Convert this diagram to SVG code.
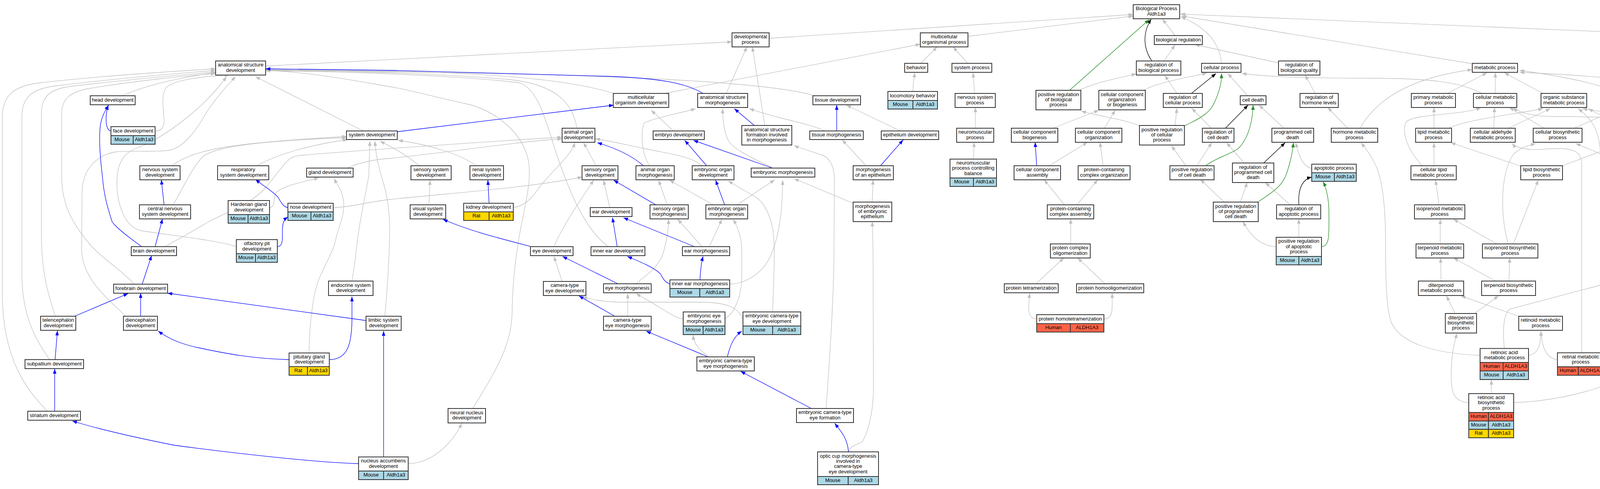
<svg xmlns="http://www.w3.org/2000/svg" width="4796" height="1251" viewBox="0 0 4796 1251">
<defs>
<style>
.node rect{fill:#fff;stroke:#333;stroke-width:2}
.node rect.m{fill:#add8e6}
.node rect.r{fill:#ffd700}
.node rect.h{fill:#ff6347}
text{font-family:"Liberation Sans",Arial,sans-serif;font-size:13px;text-anchor:middle;fill:#000}
.node text{transform:translateY(-1.5px)}
#edges path{fill:none;stroke-width:1.3}
#edges .g{stroke:#c0c0c0;marker-end:url(#ag)}
#edges .b{stroke:#0000ff;marker-end:url(#ab)}
#edges .k{stroke:#000;marker-end:url(#ak)}
#edges .gr{stroke:#228b22;marker-end:url(#agr)}
</style>
<marker id="ag" viewBox="0 0 12 9" refX="12" refY="4.5" markerWidth="12" markerHeight="9" markerUnits="userSpaceOnUse" orient="auto"><path d="M0,0L12,4.5L0,9z" fill="#c0c0c0"/></marker>
<marker id="ab" viewBox="0 0 12 9" refX="12" refY="4.5" markerWidth="12" markerHeight="9" markerUnits="userSpaceOnUse" orient="auto"><path d="M0,0L12,4.5L0,9z" fill="#0000ff"/></marker>
<marker id="ak" viewBox="0 0 12 9" refX="12" refY="4.5" markerWidth="12" markerHeight="9" markerUnits="userSpaceOnUse" orient="auto"><path d="M0,0L12,4.5L0,9z" fill="#000"/></marker>
<marker id="agr" viewBox="0 0 12 9" refX="12" refY="4.5" markerWidth="12" markerHeight="9" markerUnits="userSpaceOnUse" orient="auto"><path d="M0,0L12,4.5L0,9z" fill="#228b22"/></marker>
</defs>
<rect width="4796" height="1251" fill="#fff"/>
<g id="edges">
<path class="g" d="M680,169 L1874,107"/>
<path class="g" d="M1969,98 L2901,37"/>
<path class="g" d="M2478,93 L2901,41"/>
<path class="g" d="M3008,91 L2976,49"/>
<path class="g" d="M3127,162 C3122,110 3090,70 3023,43"/>
<path class="g" d="M3769,163 L3025,41"/>
<path class="g" d="M4537,99 L3022,36"/>
<path class="g" d="M1859,239 L1912,120"/>
<path class="g" d="M1958,321 L1926,120"/>
<path class="g" d="M1701,239 L2356,113"/>
<path class="g" d="M2357,162 L2399,120"/>
<path class="g" d="M2477,162 L2440,120"/>
<path class="g" d="M2337,234 C2337,215 2340,200 2342,186"/>
<path class="g" d="M2495,239 L2491,186"/>
<path class="g" d="M2497,328 L2497,275"/>
<path class="g" d="M2492,407 L2494,364"/>
<path class="g" d="M2980,156 L3008,115"/>
<path class="g" d="M3273,161 L3059,114"/>
<path class="g" d="M2763,231 C2800,212 2860,200 2909,189"/>
<path class="g" d="M3013,239 L2982,193"/>
<path class="g" d="M2928,231 C2960,212 3030,200 3090,187"/>
<path class="g" d="M3194,245 L3143,188"/>
<path class="g" d="M3794,239 C3740,210 3660,200 3500,200 C3350,200 3250,197 3179,188"/>
<path class="g" d="M3287,328 L3223,269"/>
<path class="g" d="M3008,321 L3013,277"/>
<path class="g" d="M3101,328 L3051,277"/>
<path class="g" d="M2917,322 C2880,305 2810,297 2768,284"/>
<path class="g" d="M2695,328 L2813,282"/>
<path class="g" d="M2827,328 L2855,282"/>
<path class="g" d="M2686,424 L2784,364"/>
<path class="g" d="M2824,424 L2816,364"/>
<path class="g" d="M2725,524 L2673,460"/>
<path class="g" d="M2757,524 L2810,460"/>
<path class="g" d="M2741,624 L2741,560"/>
<path class="g" d="M2652,726 L2723,660"/>
<path class="g" d="M2829,726 L2759,660"/>
<path class="g" d="M2654,816 C2630,816 2632,790 2636,750"/>
<path class="g" d="M2826,816 C2850,816 2848,790 2847,750"/>
<path class="g" d="M3036,424 L2999,373"/>
<path class="g" d="M3064,424 L3102,365"/>
<path class="g" d="M3185,417 L3140,365"/>
<path class="g" d="M3358,431 C3335,425 3325,400 3317,365"/>
<path class="g" d="M3175,517 L3193,467"/>
<path class="g" d="M3303,524 L3239,467"/>
<path class="g" d="M3134,517 L3073,459"/>
<path class="g" d="M3267,631 C3225,630 3200,600 3182,567"/>
<path class="g" d="M3325,607 L3325,560"/>
<path class="g" d="M3450,328 L3399,275"/>
<path class="g" d="M3367,239 L3341,192"/>
<path class="g" d="M3789,909 C3680,905 3580,880 3560,820 C3548,780 3547,700 3547,620 C3547,540 3540,470 3525,430 C3510,395 3495,380 3485,365"/>
<path class="g" d="M3482,328 C3520,260 3600,200 3769,178"/>
<path class="g" d="M3705,239 L3807,186"/>
<path class="g" d="M3828,239 L3828,186"/>
<path class="g" d="M3950,239 L3851,186"/>
<path class="g" d="M4146,240 C4100,215 4000,195 3890,180"/>
<path class="g" d="M4314,239 C4250,205 4050,192 3890,185"/>
<path class="g" d="M3671,328 L3671,275"/>
<path class="g" d="M3641,424 C3600,380 3588,335 3600,312 C3620,290 3750,295 3791,275"/>
<path class="g" d="M3824,328 L3826,275"/>
<path class="g" d="M3953,328 L3864,275"/>
<path class="g" d="M4326,328 C4280,305 4100,298 3980,298 C3930,298 3890,290 3874,275"/>
<path class="g" d="M3708,328 C3760,305 3860,295 3950,278"/>
<path class="g" d="M3861,328 L3969,278"/>
<path class="g" d="M4148,321 L4066,278"/>
<path class="g" d="M4326,328 C4280,305 4120,290 4051,278"/>
<path class="g" d="M4146,809 C4110,760 4097,700 4097,620 L4097,400 C4097,330 4070,300 4040,278"/>
<path class="g" d="M4030,328 L4149,276"/>
<path class="g" d="M4200,321 L4193,276"/>
<path class="g" d="M4367,328 L4367,275"/>
<path class="g" d="M4474,321 L4403,276"/>
<path class="g" d="M4470,321 C4430,300 4280,295 4231,276"/>
<path class="g" d="M4172,425 L4034,367"/>
<path class="g" d="M3861,624 C3842,560 3838,450 3874,395 C3895,375 3915,372 3931,367"/>
<path class="g" d="M4049,902 L4049,420 C4049,390 4030,380 3990,380 C3950,380 3930,386 3900,380 C3885,377 3876,373 3871,367"/>
<path class="g" d="M3671,424 L3671,365"/>
<path class="g" d="M3893,425 L3714,365"/>
<path class="g" d="M3684,524 L3675,461"/>
<path class="g" d="M3874,624 L3938,461"/>
<path class="g" d="M3687,624 L3687,561"/>
<path class="g" d="M3832,624 L3721,561"/>
<path class="g" d="M3863,719 L3865,660"/>
<path class="g" d="M3689,719 L3688,660"/>
<path class="g" d="M3829,719 L3721,660"/>
<path class="g" d="M3725,802 L3703,757"/>
<path class="g" d="M3888,809 L3740,757"/>
<path class="g" d="M3775,802 L3836,757"/>
<path class="g" d="M3760,1030 C3720,1028 3715,1000 3715,960 C3715,900 3725,870 3730,853"/>
<path class="g" d="M3913,909 C3940,905 3944,880 3945,847"/>
<path class="g" d="M3987,920 C3960,918 3947,890 3945,847"/>
<path class="g" d="M4106,920 C4135,920 4150,880 4153,847"/>
<path class="g" d="M3818,1007 L3818,972"/>
<path class="g" d="M3851,891 C3848,860 3845,810 3864,791 L4186,706 C4230,695 4290,685 4314,668"/>
<path class="g" d="M3876,1030 C3950,1028 4050,1010 4117,982 C4170,960 4200,930 4214,902 C4240,850 4250,800 4259,765"/>
<path class="g" d="M4247,713 L4226,668"/>
<path class="g" d="M4287,713 L4329,668"/>
<path class="g" d="M4211,617 L4211,469"/>
<path class="g" d="M4249,617 L4331,561"/>
<path class="g" d="M4355,617 L4355,561"/>
<path class="g" d="M4357,524 L4361,461"/>
<path class="g" d="M4365,424 L4367,365"/>
<path class="g" d="M4249,417 L4340,365"/>
<path class="g" d="M4210,417 L4209,372"/>
<path class="g" d="M4251,417 C4280,395 4320,385 4400,384 C4440,383 4455,378 4469,369"/>
<path class="g" d="M3997,425 L4147,369"/>
<path class="g" d="M4577,156 L4577,120"/>
<path class="g" d="M4680,156 L4614,120"/>
<path class="g" d="M4580,245 L4579,192"/>
<path class="g" d="M4718,228 L4718,192"/>
<path class="g" d="M4613,335 C4595,332 4588,300 4584,268"/>
<path class="g" d="M1571,239 C1480,210 1300,188 1000,182 L680,178"/>
<path class="g" d="M1477,328 C1465,260 1420,215 1300,203 C1150,190 900,181 680,179"/>
<path class="g" d="M2086,245 C1950,205 1500,190 1000,184 L680,180"/>
<path class="g" d="M1558,631 C1500,590 1460,500 1420,380 C1390,280 1370,225 1330,212 C1200,195 900,183 680,181"/>
<path class="g" d="M1210,1045 C1270,950 1310,880 1311,800 C1312,720 1320,660 1330,600 C1345,520 1365,450 1350,400 C1330,330 1260,280 1191,265 C1120,250 1050,230 1000,222 C900,205 800,185 680,180"/>
<path class="g" d="M930,335 L654,196"/>
<path class="g" d="M312,245 C380,215 480,195 552,186"/>
<path class="g" d="M397,335 C415,335 421,325 420,305 C418,275 412,245 425,225 C440,205 520,195 587,192"/>
<path class="g" d="M605,631 C560,615 420,600 360,590 C320,580 295,520 300,450 C305,400 330,385 360,375 C420,350 520,280 580,196"/>
<path class="g" d="M321,809 C285,770 212,720 209,640 L210,490 C212,430 250,395 300,388 C350,385 410,390 440,383 C480,370 510,320 530,285 C560,240 590,210 603,196"/>
<path class="g" d="M121,1051 C70,1000 6,920 6,750 L6,300 C6,240 40,220 100,212 C250,195 450,182 552,176"/>
<path class="g" d="M127,920 C100,880 56,820 56,700 L56,300 C56,250 80,228 140,220 C280,203 450,188 552,180"/>
<path class="g" d="M142,809 C125,760 106,700 106,600 L106,290 C106,245 130,228 180,221 C300,207 460,192 552,184"/>
<path class="g" d="M344,727 C310,690 260,660 230,625 C180,565 158,520 158,450 L158,290 C158,252 180,235 230,226 C340,208 470,194 552,188"/>
<path class="g" d="M421,631 C480,600 520,575 542,563 C600,535 650,515 680,480 C710,445 725,420 740,408 C750,400 760,398 775,397 C850,390 1200,365 1439,351"/>
<path class="g" d="M443,524 C470,480 490,430 520,400 C560,370 700,360 887,352"/>
<path class="g" d="M440,424 C500,380 600,365 887,349"/>
<path class="g" d="M657,424 C720,390 800,370 890,357"/>
<path class="g" d="M890,430 C920,415 960,408 1000,405 C1150,390 1300,365 1439,355"/>
<path class="g" d="M690,531 C705,530 700,510 705,495 C720,475 780,465 816,455"/>
<path class="g" d="M853,531 C900,530 950,515 1000,510 C1200,490 1350,480 1491,453"/>
<path class="g" d="M791,902 C792,840 800,740 823,700 C840,660 855,640 860,610 C870,570 882,550 880,520 C878,490 862,470 855,457"/>
<path class="g" d="M901,719 C906,690 910,660 912,640 C920,560 940,480 944,449 L947,361"/>
<path class="g" d="M985,809 C990,760 995,680 997,620 C999,560 995,520 985,480 C970,430 962,400 960,361"/>
<path class="g" d="M1045,1186 C1110,1185 1160,1130 1182,1083"/>
<path class="g" d="M1724,335 L1667,282"/>
<path class="g" d="M1663,424 C1640,390 1640,330 1650,314 C1680,300 1740,290 1781,278"/>
<path class="g" d="M1978,430 C1930,405 1880,385 1865,360 C1852,335 1850,300 1850,278"/>
<path class="g" d="M2112,335 C2080,320 2030,310 2000,302 C1960,292 1940,285 1918,278"/>
<path class="g" d="M1314,531 C1340,528 1360,510 1380,480 C1420,430 1460,400 1472,365"/>
<path class="g" d="M1526,424 L1494,365"/>
<path class="g" d="M1797,424 C1770,400 1720,395 1650,380 C1600,370 1560,360 1524,355"/>
<path class="g" d="M2305,335 L2167,269"/>
<path class="g" d="M2217,424 L2156,358"/>
<path class="g" d="M2115,1045 C2125,900 2135,750 2135,640 L2136,460 C2136,420 2120,400 2100,395 C2070,385 2045,378 2033,372"/>
<path class="g" d="M1978,798 C1980,720 1985,650 1980,600 C1976,560 1960,520 1933,503 C1910,490 1885,475 1864,463"/>
<path class="g" d="M2184,520 L2033,457"/>
<path class="g" d="M2233,517 L2235,460"/>
<path class="g" d="M2172,1156 C2175,1140 2200,1135 2207,1131 C2225,1100 2235,1050 2236,1000 L2235,640 L2233,567"/>
<path class="g" d="M1816,913 C1790,895 1775,880 1775,857"/>
<path class="g" d="M1749,816 C1725,814 1700,790 1628,751"/>
<path class="g" d="M1856,816 C1880,800 1900,760 1899,700 L1899,640 C1898,600 1885,575 1877,561"/>
<path class="g" d="M1902,816 C1890,790 1870,775 1800,773 L1600,773 C1540,773 1510,765 1491,759"/>
<path class="g" d="M1607,809 L1607,751"/>
<path class="g" d="M1439,720 L1418,656"/>
<path class="g" d="M1628,726 C1660,700 1690,680 1700,640 C1710,600 1712,580 1711,561"/>
<path class="g" d="M1868,727 C1910,725 1950,700 1970,660 C1990,620 2000,560 2002,510 L2004,461"/>
<path class="g" d="M1797,631 L1735,561"/>
<path class="g" d="M1816,631 L1848,561"/>
<path class="g" d="M1561,531 L1545,461"/>
<path class="g" d="M1418,631 C1440,580 1480,520 1520,461"/>
<path class="g" d="M1708,524 L1686,461"/>
<path class="g" d="M1826,524 L1714,461"/>
<path class="g" d="M1887,524 L1983,460"/>
<path class="g" d="M1098,524 L1101,461"/>
<path class="g" d="M1073,424 C1040,395 1000,375 973,361"/>
<path class="g" d="M1220,424 C1180,395 1100,370 1019,359"/>
<path class="b" d="M1800,239 C1760,215 1700,200 1550,195 L1000,180 L680,176"/>
<path class="b" d="M284,335 C270,333 268,300 277,269"/>
<path class="b" d="M363,631 C320,600 295,580 287,567 C275,530 266,500 262,450 C256,400 253,350 257,320 C260,300 268,285 278,269"/>
<path class="b" d="M397,631 L416,560"/>
<path class="b" d="M420,524 L413,460"/>
<path class="b" d="M737,531 C725,530 718,515 712,505 C700,490 680,480 654,459"/>
<path class="b" d="M710,631 C725,631 723,610 723,590 C723,570 727,562 737,555"/>
<path class="b" d="M843,920 C890,920 900,880 901,820 L901,759"/>
<path class="b" d="M740,920 C650,918 580,905 510,890 C460,880 430,865 405,847"/>
<path class="b" d="M937,820 L429,750"/>
<path class="b" d="M982,1169 L982,847"/>
<path class="b" d="M918,1186 C820,1184 600,1160 446,1139 C350,1120 260,1100 185,1077"/>
<path class="b" d="M140,1052 L140,944"/>
<path class="b" d="M141,920 L147,846"/>
<path class="b" d="M191,809 L328,751"/>
<path class="b" d="M360,809 L360,750"/>
<path class="b" d="M364,727 L388,654"/>
<path class="b" d="M1017,337 L1571,269"/>
<path class="b" d="M1931,321 L1880,278"/>
<path class="b" d="M1647,424 C1620,400 1580,380 1529,365"/>
<path class="b" d="M1809,424 L1753,359"/>
<path class="b" d="M1978,430 L1775,359"/>
<path class="b" d="M2142,335 L2142,269"/>
<path class="b" d="M2254,424 L2312,358"/>
<path class="b" d="M2172,1156 C2170,1120 2150,1100 2137,1083"/>
<path class="b" d="M2077,1045 L1896,950"/>
<path class="b" d="M1813,913 L1654,847"/>
<path class="b" d="M1862,913 C1870,880 1880,860 1899,847"/>
<path class="b" d="M1574,809 L1482,757"/>
<path class="b" d="M1582,726 L1440,656"/>
<path class="b" d="M1715,726 C1700,722 1697,710 1690,700 C1675,685 1640,670 1606,656"/>
<path class="b" d="M1792,716 C1793,690 1796,670 1800,656"/>
<path class="b" d="M1778,631 L1596,557"/>
<path class="b" d="M1580,631 L1568,557"/>
<path class="b" d="M1360,631 C1280,610 1200,590 1134,561"/>
<path class="b" d="M1679,524 L1571,461"/>
<path class="b" d="M1855,524 L1832,461"/>
<path class="b" d="M1252,520 L1249,461"/>
<path class="b" d="M2654,424 L2650,364"/>
<path class="k" d="M2949,156 C2925,122 2926,82 2947,49"/>
<path class="k" d="M3050,239 L3113,188"/>
<path class="k" d="M3137,328 L3195,269"/>
<path class="k" d="M3235,417 L3290,365"/>
<path class="k" d="M3325,524 C3323,490 3330,460 3358,453"/>
<path class="gr" d="M2738,231 L2942,50"/>
<path class="gr" d="M3032,322 C3080,300 3100,285 3110,260 C3125,225 3127,210 3127,188"/>
<path class="gr" d="M3086,424 C3120,400 3150,395 3170,380 C3200,350 3207,300 3208,269"/>
<path class="gr" d="M3220,517 C3260,490 3285,475 3295,440 C3308,400 3310,380 3311,365"/>
<path class="gr" d="M3383,631 C3405,630 3402,600 3402,540 C3402,510 3395,480 3387,465"/>
</g>
<g id="n1" class="node"><rect x="552" y="156" width="128" height="36"/><text x="616" y="171.9">anatomical structure<tspan x="616" dy="13.3">development</tspan></text></g>
<g id="n2" class="node"><rect x="231" y="245" width="115" height="23"/><text x="288.5" y="261">head development</text></g>
<g id="n3" class="node"><rect x="284" y="324" width="113" height="23"/><text x="340.5" y="340">face development</text><rect class="m" x="284" y="347" width="57" height="22"/><rect class="m" x="341" y="347" width="56" height="22"/><text x="312.5" y="362.5">Mouse</text><text x="369" y="362.5">Aldh1a3</text></g>
<g id="n4" class="node"><rect x="887" y="335" width="130" height="22"/><text x="952" y="350.5">system development</text></g>
<g id="n5" class="node"><rect x="358" y="424" width="103" height="36"/><text x="409.5" y="439.9">nervous system<tspan x="409.5" dy="13.3">development</tspan></text></g>
<g id="n6" class="node"><rect x="557" y="424" width="131" height="36"/><text x="622.5" y="439.9">respiratory<tspan x="622.5" dy="13.3">system development</tspan></text></g>
<g id="n7" class="node"><rect x="785" y="430" width="119" height="23"/><text x="844.5" y="446">gland development</text></g>
<g id="n8" class="node"><rect x="357" y="524" width="131" height="36"/><text x="422.5" y="539.9">central nervous<tspan x="422.5" dy="13.3">system development</tspan></text></g>
<g id="n9" class="node"><rect x="584" y="513" width="106" height="36"/><text x="637" y="528.9">Harderian gland<tspan x="637" dy="13.3">development</tspan></text><rect class="m" x="584" y="549" width="51" height="22"/><rect class="m" x="635" y="549" width="55" height="22"/><text x="609.5" y="564.5">Mouse</text><text x="662.5" y="564.5">Aldh1a3</text></g>
<g id="n10" class="node"><rect x="737" y="520" width="116" height="22"/><text x="795" y="535.5">nose development</text><rect class="m" x="737" y="542" width="59" height="22"/><rect class="m" x="796" y="542" width="57" height="22"/><text x="766.5" y="557.5">Mouse</text><text x="824.5" y="557.5">Aldh1a3</text></g>
<g id="n11" class="node"><rect x="605" y="613" width="105" height="36"/><text x="657.5" y="628.9">olfactory pit<tspan x="657.5" dy="13.3">development</tspan></text><rect class="m" x="605" y="649" width="49" height="22"/><rect class="m" x="654" y="649" width="56" height="22"/><text x="629.5" y="664.5">Mouse</text><text x="682" y="664.5">Aldh1a3</text></g>
<g id="n12" class="node"><rect x="336" y="631" width="116" height="23"/><text x="394" y="647">brain development</text></g>
<g id="n13" class="node"><rect x="291" y="727" width="138" height="23"/><text x="360" y="743">forebrain development</text></g>
<g id="n14" class="node"><rect x="104" y="809" width="90" height="36"/><text x="149" y="824.9">telencephalon<tspan x="149" dy="13.3">development</tspan></text></g>
<g id="n15" class="node"><rect x="316" y="809" width="87" height="36"/><text x="359.5" y="824.9">diencephalon<tspan x="359.5" dy="13.3">development</tspan></text></g>
<g id="n16" class="node"><rect x="841" y="719" width="114" height="37"/><text x="898" y="735.4">endocrine system<tspan x="898" dy="13.3">development</tspan></text></g>
<g id="n17" class="node"><rect x="937" y="809" width="90" height="36"/><text x="982" y="824.9">limbic system<tspan x="982" dy="13.3">development</tspan></text></g>
<g id="n18" class="node"><rect x="740" y="903" width="103" height="35"/><text x="791.5" y="918.4">pituitary gland<tspan x="791.5" dy="13.3">development</tspan></text><rect class="r" x="740" y="938" width="47" height="22"/><rect class="r" x="787" y="938" width="56" height="22"/><text x="763.5" y="953.5">Rat</text><text x="815" y="953.5">Aldh1a3</text></g>
<g id="n19" class="node"><rect x="64" y="920" width="150" height="23"/><text x="139" y="936">subpallium development</text></g>
<g id="n20" class="node"><rect x="71" y="1052" width="135" height="23"/><text x="138.5" y="1068">striatum development</text></g>
<g id="n21" class="node"><rect x="918" y="1169" width="127" height="36"/><text x="981.5" y="1184.9">nucleus accumbens<tspan x="981.5" dy="13.3">development</tspan></text><rect class="m" x="918" y="1205" width="64" height="22"/><rect class="m" x="982" y="1205" width="63" height="22"/><text x="950" y="1220.5">Mouse</text><text x="1013.5" y="1220.5">Aldh1a3</text></g>
<g id="n22" class="node"><rect x="1874" y="84" width="95" height="36"/><text x="1921.5" y="99.9">developmental<tspan x="1921.5" dy="13.3">process</tspan></text></g>
<g id="n23" class="node"><rect x="1570" y="239" width="142" height="36"/><text x="1641" y="254.9">multicellular<tspan x="1641" dy="13.3">organism development</tspan></text></g>
<g id="n24" class="node"><rect x="1786" y="239" width="128" height="36"/><text x="1850" y="254.9">anatomical structure<tspan x="1850" dy="13.3">morphogenesis</tspan></text></g>
<g id="n25" class="node"><rect x="1899" y="321" width="128" height="50"/><text x="1963" y="337.2">anatomical structure<tspan x="1963" dy="13.3">formation involved</tspan><tspan x="1963" dy="13.3">in morphogenesis</tspan></text></g>
<g id="n26" class="node"><rect x="1439" y="328" width="84" height="36"/><text x="1481" y="343.9">animal organ<tspan x="1481" dy="13.3">development</tspan></text></g>
<g id="n27" class="node"><rect x="1672" y="335" width="131" height="22"/><text x="1737.5" y="350.5">embryo development</text></g>
<g id="n28" class="node"><rect x="1052" y="424" width="103" height="36"/><text x="1103.5" y="439.9">sensory system<tspan x="1103.5" dy="13.3">development</tspan></text></g>
<g id="n29" class="node"><rect x="1203" y="424" width="86" height="36"/><text x="1246" y="439.9">renal system<tspan x="1246" dy="13.3">development</tspan></text></g>
<g id="n30" class="node"><rect x="1490" y="424" width="92" height="36"/><text x="1536" y="439.9">sensory organ<tspan x="1536" dy="13.3">development</tspan></text></g>
<g id="n31" class="node"><rect x="1628" y="424" width="98" height="36"/><text x="1677" y="439.9">animal organ<tspan x="1677" dy="13.3">morphogenesis</tspan></text></g>
<g id="n32" class="node"><rect x="1772" y="424" width="107" height="36"/><text x="1825.5" y="439.9">embryonic organ<tspan x="1825.5" dy="13.3">development</tspan></text></g>
<g id="n33" class="node"><rect x="1923" y="430" width="163" height="23"/><text x="2004.5" y="446">embryonic morphogenesis</text></g>
<g id="n34" class="node"><rect x="1050" y="524" width="91" height="36"/><text x="1095.5" y="539.9">visual system<tspan x="1095.5" dy="13.3">development</tspan></text></g>
<g id="n35" class="node"><rect x="1187" y="520" width="127" height="22"/><text x="1250.5" y="535.5">kidney development</text><rect class="r" x="1187" y="542" width="65" height="22"/><rect class="r" x="1252" y="542" width="62" height="22"/><text x="1219.5" y="557.5">Rat</text><text x="1283" y="557.5">Aldh1a3</text></g>
<g id="n36" class="node"><rect x="1511" y="531" width="107" height="23"/><text x="1564.5" y="547">ear development</text></g>
<g id="n37" class="node"><rect x="1664" y="524" width="98" height="36"/><text x="1713" y="539.9">sensory organ<tspan x="1713" dy="13.3">morphogenesis</tspan></text></g>
<g id="n38" class="node"><rect x="1807" y="524" width="107" height="36"/><text x="1860.5" y="539.9">embryonic organ<tspan x="1860.5" dy="13.3">morphogenesis</tspan></text></g>
<g id="n39" class="node"><rect x="1358" y="631" width="109" height="23"/><text x="1412.5" y="647">eye development</text></g>
<g id="n40" class="node"><rect x="1513" y="631" width="138" height="23"/><text x="1582" y="647">inner ear development</text></g>
<g id="n41" class="node"><rect x="1747" y="631" width="121" height="23"/><text x="1807.5" y="647">ear morphogenesis</text></g>
<g id="n42" class="node"><rect x="1391" y="720" width="109" height="36"/><text x="1445.5" y="735.9">camera-type<tspan x="1445.5" dy="13.3">eye development</tspan></text></g>
<g id="n43" class="node"><rect x="1545" y="726" width="122" height="23"/><text x="1606" y="742">eye morphogenesis</text></g>
<g id="n44" class="node"><rect x="1715" y="716" width="153" height="22"/><text x="1791.5" y="731.5">inner ear morphogenesis</text><rect class="m" x="1715" y="738" width="76.5" height="22"/><rect class="m" x="1791.5" y="738" width="76.5" height="22"/><text x="1753" y="753.5">Mouse</text><text x="1830" y="753.5">Aldh1a3</text></g>
<g id="n45" class="node"><rect x="1545" y="809" width="122" height="36"/><text x="1606" y="824.9">camera-type<tspan x="1606" dy="13.3">eye morphogenesis</tspan></text></g>
<g id="n46" class="node"><rect x="1749" y="798" width="107" height="36"/><text x="1802.5" y="813.9">embryonic eye<tspan x="1802.5" dy="13.3">morphogenesis</tspan></text><rect class="m" x="1749" y="834" width="51" height="22"/><rect class="m" x="1800" y="834" width="56" height="22"/><text x="1774.5" y="849.5">Mouse</text><text x="1828" y="849.5">Aldh1a3</text></g>
<g id="n47" class="node"><rect x="1902" y="798" width="148" height="36"/><text x="1976" y="813.9">embryonic camera-type<tspan x="1976" dy="13.3">eye development</tspan></text><rect class="m" x="1902" y="834" width="76" height="22"/><rect class="m" x="1978" y="834" width="72" height="22"/><text x="1940" y="849.5">Mouse</text><text x="2014" y="849.5">Aldh1a3</text></g>
<g id="n48" class="node"><rect x="1784" y="913" width="147" height="36"/><text x="1857.5" y="928.9">embryonic camera-type<tspan x="1857.5" dy="13.3">eye morphogenesis</tspan></text></g>
<g id="n49" class="node"><rect x="1147" y="1045" width="96" height="37"/><text x="1195" y="1061.4">neural nucleus<tspan x="1195" dy="13.3">development</tspan></text></g>
<g id="n50" class="node"><rect x="2901" y="12" width="119" height="36"/><text x="2960.5" y="27.9">Biological Process<tspan x="2960.5" dy="13.3">Aldh1a3</tspan></text></g>
<g id="n51" class="node"><rect x="2356" y="84" width="122" height="36"/><text x="2417" y="99.9">multicellular<tspan x="2417" dy="13.3">organismal process</tspan></text></g>
<g id="n52" class="node"><rect x="2316" y="162" width="59" height="23"/><text x="2345.5" y="178">behavior</text></g>
<g id="n53" class="node"><rect x="2437" y="162" width="102" height="23"/><text x="2488" y="178">system process</text></g>
<g id="n54" class="node"><rect x="2955" y="91" width="123" height="23"/><text x="3016.5" y="107">biological regulation</text></g>
<g id="n55" class="node"><rect x="2909" y="156" width="114" height="36"/><text x="2966" y="171.9">regulation of<tspan x="2966" dy="13.3">biological process</tspan></text></g>
<g id="n56" class="node"><rect x="2081" y="245" width="122" height="23"/><text x="2142" y="261">tissue development</text></g>
<g id="n57" class="node"><rect x="2273" y="234" width="127" height="23"/><text x="2336.5" y="250">locomotory behavior</text><rect class="m" x="2273" y="257" width="64" height="22"/><rect class="m" x="2337" y="257" width="63" height="22"/><text x="2305" y="272.5">Mouse</text><text x="2368.5" y="272.5">Aldh1a3</text></g>
<g id="n58" class="node"><rect x="2445" y="239" width="103" height="36"/><text x="2496.5" y="254.9">nervous system<tspan x="2496.5" dy="13.3">process</tspan></text></g>
<g id="n59" class="node"><rect x="2652" y="231" width="115" height="50"/><text x="2709.5" y="247.2">positive regulation<tspan x="2709.5" dy="13.3">of biological</tspan><tspan x="2709.5" dy="13.3">process</tspan></text></g>
<g id="n60" class="node"><rect x="2813" y="231" width="119" height="50"/><text x="2872.5" y="247.2">cellular component<tspan x="2872.5" dy="13.3">organization</tspan><tspan x="2872.5" dy="13.3">or biogenesis</tspan></text></g>
<g id="n61" class="node"><rect x="2978" y="239" width="100" height="36"/><text x="3028" y="254.9">regulation of<tspan x="3028" dy="13.3">cellular process</tspan></text></g>
<g id="n62" class="node"><rect x="2073" y="335" width="137" height="22"/><text x="2141.5" y="350.5">tissue morphogenesis</text></g>
<g id="n63" class="node"><rect x="2256" y="335" width="147" height="22"/><text x="2329.5" y="350.5">epithelium development</text></g>
<g id="n64" class="node"><rect x="2449" y="328" width="95" height="36"/><text x="2496.5" y="343.9">neuromuscular<tspan x="2496.5" dy="13.3">process</tspan></text></g>
<g id="n65" class="node"><rect x="2589" y="328" width="119" height="36"/><text x="2648.5" y="343.9">cellular component<tspan x="2648.5" dy="13.3">biogenesis</tspan></text></g>
<g id="n66" class="node"><rect x="2753" y="328" width="119" height="36"/><text x="2812.5" y="343.9">cellular component<tspan x="2812.5" dy="13.3">organization</tspan></text></g>
<g id="n67" class="node"><rect x="2917" y="321" width="115" height="50"/><text x="2974.5" y="337.2">positive regulation<tspan x="2974.5" dy="13.3">of cellular</tspan><tspan x="2974.5" dy="13.3">process</tspan></text></g>
<g id="n68" class="node"><rect x="2184" y="424" width="103" height="36"/><text x="2235.5" y="439.9">morphogenesis<tspan x="2235.5" dy="13.3">of an epithelium</tspan></text></g>
<g id="n69" class="node"><rect x="2432" y="407" width="119" height="48.5"/><text x="2491.5" y="422.5">neuromuscular<tspan x="2491.5" dy="13.3">process controlling</tspan><tspan x="2491.5" dy="13.3">balance</tspan></text><rect class="m" x="2432" y="455.5" width="60" height="21.5"/><rect class="m" x="2492" y="455.5" width="59" height="21.5"/><text x="2462" y="470.8">Mouse</text><text x="2521.5" y="470.8">Aldh1a3</text></g>
<g id="n70" class="node"><rect x="2596" y="424" width="119" height="36"/><text x="2655.5" y="439.9">cellular component<tspan x="2655.5" dy="13.3">assembly</tspan></text></g>
<g id="n71" class="node"><rect x="2760" y="424" width="133" height="36"/><text x="2826.5" y="439.9">protein-containing<tspan x="2826.5" dy="13.3">complex organization</tspan></text></g>
<g id="n72" class="node"><rect x="2995" y="424" width="113" height="36"/><text x="3051.5" y="439.9">positive regulation<tspan x="3051.5" dy="13.3">of cell death</tspan></text></g>
<g id="n73" class="node"><rect x="2184" y="517" width="99" height="50"/><text x="2233.5" y="533.2">morphogenesis<tspan x="2233.5" dy="13.3">of embryonic</tspan><tspan x="2233.5" dy="13.3">epithelium</tspan></text></g>
<g id="n74" class="node"><rect x="2681" y="524" width="119" height="36"/><text x="2740.5" y="539.9">protein-containing<tspan x="2740.5" dy="13.3">complex assembly</tspan></text></g>
<g id="n75" class="node"><rect x="2689" y="624" width="102" height="36"/><text x="2740" y="639.9">protein complex<tspan x="2740" dy="13.3">oligomerization</tspan></text></g>
<g id="n76" class="node"><rect x="2571" y="726" width="138" height="23"/><text x="2640" y="742">protein tetramerization</text></g>
<g id="n77" class="node"><rect x="2756" y="726" width="172" height="23"/><text x="2842" y="742">protein homooligomerization</text></g>
<g id="n78" class="node"><rect x="2654" y="805" width="172" height="23"/><text x="2740" y="821">protein homotetramerization</text><rect class="h" x="2654" y="828" width="86" height="21.5"/><rect class="h" x="2740" y="828" width="86" height="21.5"/><text x="2697" y="843.3">Human</text><text x="2783" y="843.3">ALDH1A3</text></g>
<g id="n79" class="node"><rect x="2039" y="1045" width="146" height="36"/><text x="2112" y="1060.9">embryonic camera-type<tspan x="2112" dy="13.3">eye formation</tspan></text></g>
<g id="n80" class="node"><rect x="2093" y="1156" width="156" height="63"/><text x="2171" y="1172.1">optic cup morphogenesis<tspan x="2171" dy="13.3">involved in</tspan><tspan x="2171" dy="13.3">camera-type</tspan><tspan x="2171" dy="13.3">eye development</tspan></text><rect class="m" x="2093" y="1219" width="78.5" height="21"/><rect class="m" x="2171.5" y="1219" width="77.5" height="21"/><text x="2132" y="1234">Mouse</text><text x="2210" y="1234">Aldh1a3</text></g>
<g id="n81" class="node"><rect x="3076" y="162" width="101" height="23"/><text x="3126.5" y="178">cellular process</text></g>
<g id="n82" class="node"><rect x="3273" y="156" width="106" height="36"/><text x="3326" y="171.9">regulation of<tspan x="3326" dy="13.3">biological quality</tspan></text></g>
<g id="n83" class="node"><rect x="3769" y="162" width="116" height="23"/><text x="3827" y="178">metabolic process</text></g>
<g id="n84" class="node"><rect x="3175" y="245" width="66" height="23"/><text x="3208" y="261">cell death</text></g>
<g id="n85" class="node"><rect x="3328" y="239" width="98" height="36"/><text x="3377" y="254.9">regulation of<tspan x="3377" dy="13.3">hormone levels</tspan></text></g>
<g id="n86" class="node"><rect x="3613" y="239" width="113" height="36"/><text x="3669.5" y="254.9">primary metabolic<tspan x="3669.5" dy="13.3">process</tspan></text></g>
<g id="n87" class="node"><rect x="3772" y="239" width="111" height="36"/><text x="3827.5" y="254.9">cellular metabolic<tspan x="3827.5" dy="13.3">process</tspan></text></g>
<g id="n88" class="node"><rect x="3945" y="239" width="117" height="36"/><text x="4003.5" y="254.9">organic substance<tspan x="4003.5" dy="13.3">metabolic process</tspan></text></g>
<g id="n89" class="node"><rect x="3078" y="328" width="81" height="36"/><text x="3118.5" y="343.9">regulation of<tspan x="3118.5" dy="13.3">cell death</tspan></text></g>
<g id="n90" class="node"><rect x="3256" y="328" width="107" height="36"/><text x="3309.5" y="343.9">programmed cell<tspan x="3309.5" dy="13.3">death</tspan></text></g>
<g id="n91" class="node"><rect x="3408" y="328" width="119" height="36"/><text x="3467.5" y="343.9">hormone metabolic<tspan x="3467.5" dy="13.3">process</tspan></text></g>
<g id="n92" class="node"><rect x="3624" y="328" width="92" height="36"/><text x="3670" y="343.9">lipid metabolic<tspan x="3670" dy="13.3">process</tspan></text></g>
<g id="n93" class="node"><rect x="3764" y="328" width="115" height="36"/><text x="3821.5" y="343.9">cellular aldehyde<tspan x="3821.5" dy="13.3">metabolic process</tspan></text></g>
<g id="n94" class="node"><rect x="3925" y="328" width="125" height="36"/><text x="3987.5" y="343.9">cellular biosynthetic<tspan x="3987.5" dy="13.3">process</tspan></text></g>
<g id="n95" class="node"><rect x="3155" y="417" width="106" height="50"/><text x="3208" y="433.2">regulation of<tspan x="3208" dy="13.3">programmed cell</tspan><tspan x="3208" dy="13.3">death</tspan></text></g>
<g id="n96" class="node"><rect x="3358" y="420" width="114" height="22"/><text x="3415" y="435.5">apoptotic process</text><rect class="m" x="3358" y="442" width="58" height="22"/><rect class="m" x="3416" y="442" width="56" height="22"/><text x="3387" y="457.5">Mouse</text><text x="3444" y="457.5">Aldh1a3</text></g>
<g id="n97" class="node"><rect x="3612" y="424" width="116" height="36"/><text x="3670" y="439.9">cellular lipid<tspan x="3670" dy="13.3">metabolic process</tspan></text></g>
<g id="n98" class="node"><rect x="3893" y="424" width="107" height="36"/><text x="3946.5" y="439.9">lipid biosynthetic<tspan x="3946.5" dy="13.3">process</tspan></text></g>
<g id="n99" class="node"><rect x="3106" y="517" width="115" height="50"/><text x="3163.5" y="533.2">positive regulation<tspan x="3163.5" dy="13.3">of programmed</tspan><tspan x="3163.5" dy="13.3">cell death</tspan></text></g>
<g id="n100" class="node"><rect x="3268" y="524" width="113" height="36"/><text x="3324.5" y="539.9">regulation of<tspan x="3324.5" dy="13.3">apoptotic process</tspan></text></g>
<g id="n101" class="node"><rect x="3621" y="524" width="129" height="36"/><text x="3685.5" y="539.9">isoprenoid metabolic<tspan x="3685.5" dy="13.3">process</tspan></text></g>
<g id="n102" class="node"><rect x="3267" y="607" width="116" height="49"/><text x="3325" y="622.7">positive regulation<tspan x="3325" dy="13.3">of apoptotic</tspan><tspan x="3325" dy="13.3">process</tspan></text><rect class="m" x="3267" y="656" width="58" height="21.5"/><rect class="m" x="3325" y="656" width="58" height="21.5"/><text x="3296" y="671.3">Mouse</text><text x="3354" y="671.3">Aldh1a3</text></g>
<g id="n103" class="node"><rect x="3625" y="624" width="122" height="36"/><text x="3686" y="639.9">terpenoid metabolic<tspan x="3686" dy="13.3">process</tspan></text></g>
<g id="n104" class="node"><rect x="3795" y="624" width="142" height="36"/><text x="3866" y="639.9">isoprenoid biosynthetic<tspan x="3866" dy="13.3">process</tspan></text></g>
<g id="n105" class="node"><rect x="3631" y="719" width="116" height="37"/><text x="3689" y="735.4">diterpenoid<tspan x="3689" dy="13.3">metabolic process</tspan></text></g>
<g id="n106" class="node"><rect x="3793" y="719" width="138" height="37"/><text x="3862" y="735.4">terpenoid biosynthetic<tspan x="3862" dy="13.3">process</tspan></text></g>
<g id="n107" class="node"><rect x="3700" y="802" width="80" height="50"/><text x="3740" y="818.2">diterpenoid<tspan x="3740" dy="13.3">biosynthetic</tspan><tspan x="3740" dy="13.3">process</tspan></text></g>
<g id="n108" class="node"><rect x="3888" y="809" width="112" height="36"/><text x="3944" y="824.9">retinoid metabolic<tspan x="3944" dy="13.3">process</tspan></text></g>
<g id="n109" class="node"><rect x="3789" y="891.5" width="124" height="36"/><text x="3851" y="907.4">retinoic acid<tspan x="3851" dy="13.3">metabolic process</tspan></text><rect class="h" x="3789" y="927.5" width="59" height="21.5"/><rect class="h" x="3848" y="927.5" width="65" height="21.5"/><text x="3818.5" y="942.8">Human</text><text x="3880.5" y="942.8">ALDH1A3</text><rect class="m" x="3789" y="949" width="59" height="22"/><rect class="m" x="3848" y="949" width="65" height="22"/><text x="3818.5" y="964.5">Mouse</text><text x="3880.5" y="964.5">Aldh1a3</text></g>
<g id="n110" class="node"><rect x="3760" y="1007" width="115" height="48.5"/><text x="3817.5" y="1022.5">retinoic acid<tspan x="3817.5" dy="13.3">biosynthetic</tspan><tspan x="3817.5" dy="13.3">process</tspan></text><rect class="h" x="3760" y="1055.5" width="50.5" height="21.5"/><rect class="h" x="3810.5" y="1055.5" width="64.5" height="21.5"/><text x="3785.3" y="1070.8">Human</text><text x="3842.8" y="1070.8">ALDH1A3</text><rect class="m" x="3760" y="1077" width="50.5" height="21.5"/><rect class="m" x="3810.5" y="1077" width="64.5" height="21.5"/><text x="3785.3" y="1092.3">Mouse</text><text x="3842.8" y="1092.3">Aldh1a3</text><rect class="r" x="3760" y="1098.5" width="50.5" height="21.5"/><rect class="r" x="3810.5" y="1098.5" width="64.5" height="21.5"/><text x="3785.3" y="1113.8">Rat</text><text x="3842.8" y="1113.8">Aldh1a3</text></g>
<g id="n111" class="node"><rect x="4146" y="239" width="80" height="36"/><text x="4186" y="254.9">biosynthetic<tspan x="4186" dy="13.3">process</tspan></text></g>
<g id="n112" class="node"><rect x="4309" y="239" width="116" height="36"/><text x="4367" y="254.9">small molecule<tspan x="4367" dy="13.3">metabolic process</tspan></text></g>
<g id="n113" class="node"><rect x="4537" y="84" width="79" height="36"/><text x="4576.5" y="99.9">response to<tspan x="4576.5" dy="13.3">stimulus</tspan></text></g>
<g id="n114" class="node"><rect x="4522" y="156" width="110" height="36"/><text x="4577" y="171.9">response to<tspan x="4577" dy="13.3">external stimulus</tspan></text></g>
<g id="n115" class="node"><rect x="4678" y="156" width="79" height="36"/><text x="4717.5" y="171.9">response to<tspan x="4717.5" dy="13.3">chemical</tspan></text></g>
<g id="n116" class="node"><rect x="4560" y="245" width="42" height="23"/><text x="4581" y="261">reflex</text></g>
<g id="n117" class="node"><rect x="4656" y="228" width="124" height="36"/><text x="4718" y="243.9">response to<tspan x="4718" dy="13.3">xenobiotic stimulus</tspan></text><rect class="r" x="4656" y="264" width="62" height="21.5"/><rect class="r" x="4718" y="264" width="62" height="21.5"/><text x="4687" y="279.3">Rat</text><text x="4749" y="279.3">Aldh1a3</text></g>
<g id="n118" class="node"><rect x="4148" y="321" width="116" height="50"/><text x="4206" y="337.2">organic substance<tspan x="4206" dy="13.3">biosynthetic</tspan><tspan x="4206" dy="13.3">process</tspan></text></g>
<g id="n119" class="node"><rect x="4309" y="328" width="116" height="36"/><text x="4367" y="343.9">organic acid<tspan x="4367" dy="13.3">metabolic process</tspan></text></g>
<g id="n120" class="node"><rect x="4470" y="321" width="98" height="50"/><text x="4519" y="337.2">small molecule<tspan x="4519" dy="13.3">biosynthetic</tspan><tspan x="4519" dy="13.3">process</tspan></text></g>
<g id="n121" class="node"><rect x="4613" y="324" width="105" height="22"/><text x="4665.5" y="339.5">righting reflex</text><rect class="m" x="4613" y="346" width="49" height="22"/><rect class="m" x="4662" y="346" width="56" height="22"/><text x="4637.5" y="361.5">Mouse</text><text x="4690" y="361.5">Aldh1a3</text></g>
<g id="n122" class="node"><rect x="4172" y="417" width="80" height="50"/><text x="4212" y="433.2">organic acid<tspan x="4212" dy="13.3">biosynthetic</tspan><tspan x="4212" dy="13.3">process</tspan></text></g>
<g id="n123" class="node"><rect x="4306" y="424" width="115" height="36"/><text x="4363.5" y="439.9">oxoacid metabolic<tspan x="4363.5" dy="13.3">process</tspan></text></g>
<g id="n124" class="node"><rect x="4297" y="524" width="116" height="36"/><text x="4355" y="539.9">carboxylic acid<tspan x="4355" dy="13.3">metabolic process</tspan></text></g>
<g id="n125" class="node"><rect x="4162" y="617" width="98" height="50"/><text x="4211" y="633.2">carboxylic acid<tspan x="4211" dy="13.3">biosynthetic</tspan><tspan x="4211" dy="13.3">process</tspan></text></g>
<g id="n126" class="node"><rect x="4305" y="617" width="101" height="50"/><text x="4355.5" y="633.2">monocarboxylic<tspan x="4355.5" dy="13.3">acid metabolic</tspan><tspan x="4355.5" dy="13.3">process</tspan></text></g>
<g id="n127" class="node"><rect x="4206" y="713" width="108" height="50"/><text x="4260" y="729.2">monocarboxylic<tspan x="4260" dy="13.3">acid biosynthetic</tspan><tspan x="4260" dy="13.3">process</tspan></text></g>
<g id="n128" class="node"><rect x="4097" y="809" width="116" height="36"/><text x="4155" y="824.9">olefinic compound<tspan x="4155" dy="13.3">metabolic process</tspan></text></g>
<g id="n129" class="node"><rect x="3987" y="902.5" width="119" height="36"/><text x="4046.5" y="918.4">retinal metabolic<tspan x="4046.5" dy="13.3">process</tspan></text><rect class="h" x="3987" y="938.5" width="53.5" height="21.5"/><rect class="h" x="4040.5" y="938.5" width="65.5" height="21.5"/><text x="4013.8" y="953.8">Human</text><text x="4073.3" y="953.8">ALDH1A3</text></g>
</svg>
